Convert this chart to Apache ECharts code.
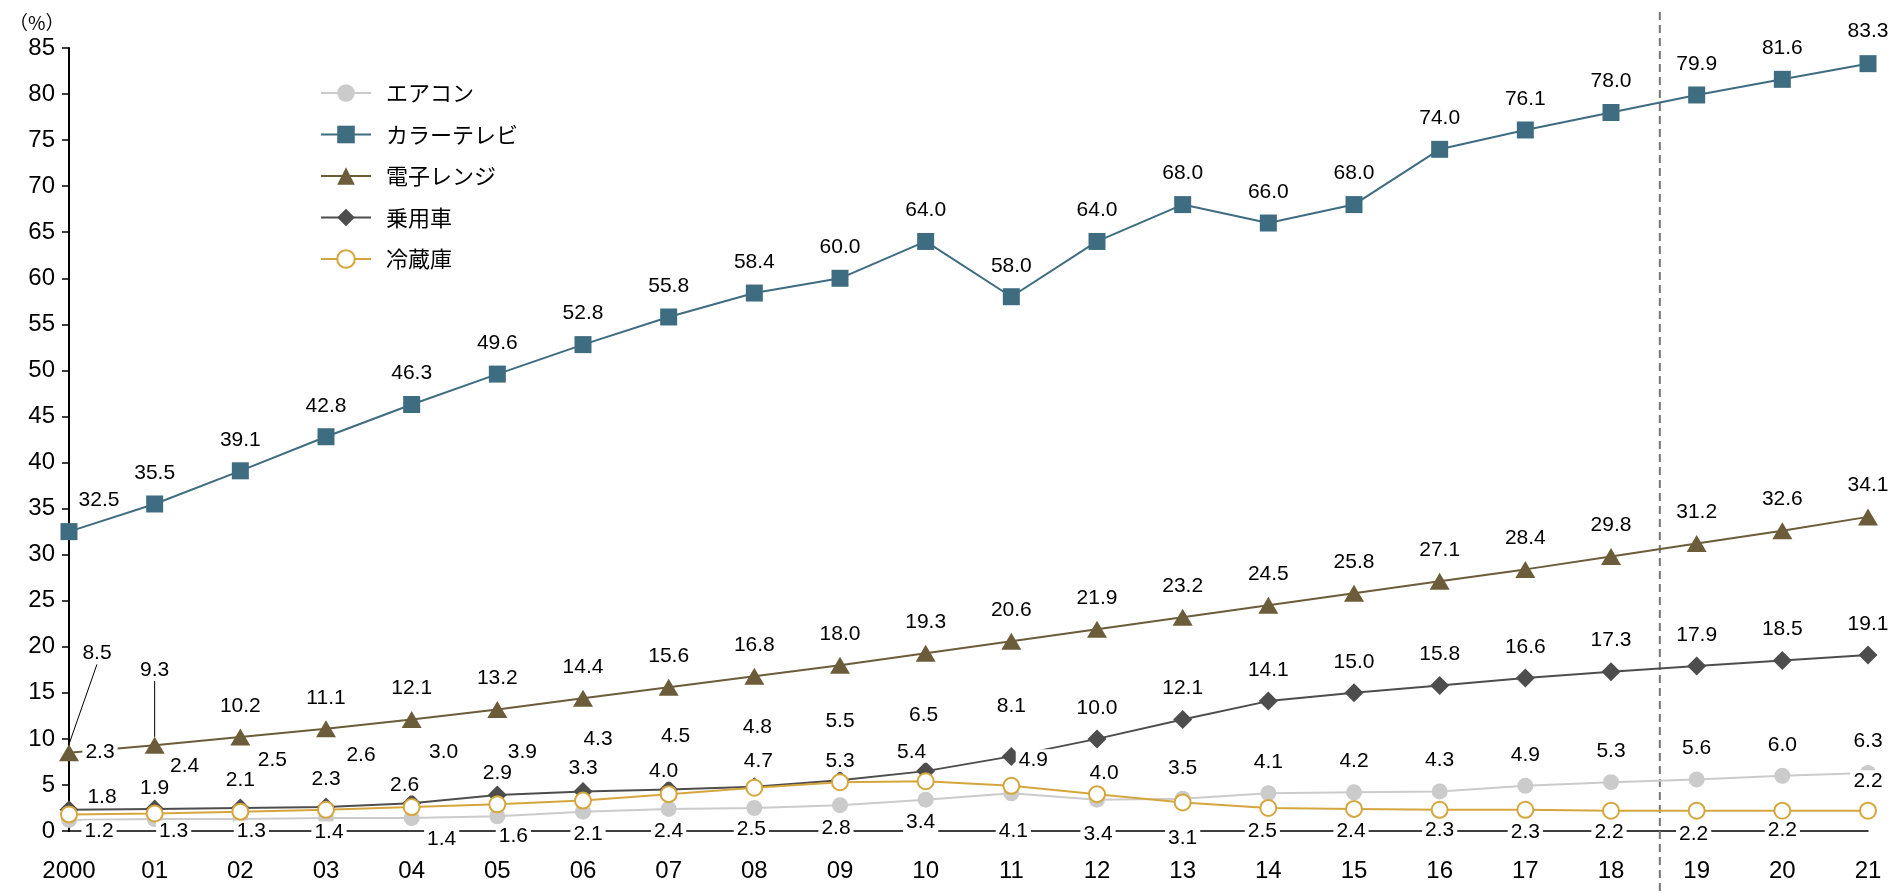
<!DOCTYPE html>
<html>
<head>
<meta charset="utf-8">
<script src="https://cdn.jsdelivr.net/npm/echarts@6/dist/echarts.min.js"></script>
<style>
html,body{margin:0;padding:0;background:#fff;}
#c{width:1892px;height:893px;}
</style>
</head>
<body>
<div id="c"></div>
<script>
// ---------------- data ----------------
const years = ['2000','01','02','03','04','05','06','07','08','09','10','11','12','13','14','15','16','17','18','19','20','21'];
const seriesNames = ['エアコン','カラーテレビ','電子レンジ','乗用車','冷蔵庫'];
const aircon    = [1.2,1.3,1.3,1.4,1.4,1.6,2.1,2.4,2.5,2.8,3.4,4.1,3.4,3.5,4.1,4.2,4.3,4.9,5.3,5.6,6.0,6.3];
const colorTv   = [32.5,35.5,39.1,42.8,46.3,49.6,52.8,55.8,58.4,60.0,64.0,58.0,64.0,68.0,66.0,68.0,74.0,76.1,78.0,79.9,81.6,83.3];
const microwave = [8.5,9.3,10.2,11.1,12.1,13.2,14.4,15.6,16.8,18.0,19.3,20.6,21.9,23.2,24.5,25.8,27.1,28.4,29.8,31.2,32.6,34.1];
const car       = [2.3,2.4,2.5,2.6,3.0,3.9,4.3,4.5,4.8,5.5,6.5,8.1,10.0,12.1,14.1,15.0,15.8,16.6,17.3,17.9,18.5,19.1];
const fridge    = [1.8,1.9,2.1,2.3,2.6,2.9,3.3,4.0,4.7,5.3,5.4,4.9,4.0,3.1,2.5,2.4,2.3,2.3,2.2,2.2,2.2,2.2];
const yMin = 0, yMax = 85, yStep = 5;
const unitLabel = '（%）';

// ---------------- styling ----------------
const FONT = '"Liberation Sans", Arial, "Noto Sans CJK JP", sans-serif';
const JPFONT = '"Noto Sans CJK JP", "Liberation Sans", sans-serif';
const styles = [
  {symbol:'circle',      size:16,      color:'#CBCBCB'},
  {symbol:'rect',        size:17,      color:'#3E6C80'},
  {symbol:'triangle',    size:[20,17], color:'#6B5C3A'},
  {symbol:'diamond',     size:19,      color:'#4D4D4D'},
  {symbol:'emptyCircle', size:16,      color:'#D6A63E'}
];
// label placement: [dx, dy] from the point; 'A' = sits on the x axis line (dy = extra shift)
const A = 'A';
const T = [0,-31];
const labelPlace = [
  [[30,0,A],[19,0,A],[11,0,A],[3,1,A],[30,8,A],[16,5,A],[5,3,A],[0,0,A],[-3,-2,A],[-4,-3,A],[-5,-9,A],[2,0,A],[1,3,A],
   T,T,T,T,T,T,T,T,[0,-32]],
  [[30,-31],T,T,T,T,T,T,T,T,T,T,T,T,T,T,T,T,T,T,T,T,[0,-32]],
  [[28,-99],[0,-75],T,T,T,T,T,T,T,T,T,T,T,T,T,T,T,T,T,T,T,[0,-32]],
  [[31,-58],[30,-43],[32,-48],[35,-52],[32,-51],[25,-43],[15,-52],[7,-53],[3,-60],[0,-59],[-2,-56],[0,-50],
   T,T,T,T,T,T,T,T,T,T],
  [[33,-17],[0,-25],[0,-31],[0,-31],[-7,-22],[0,-31],[0,-32],[-5,-23],[4,-27],[0,-21],[-14,-29],[22,-26],[7,-21],
   [0,7,A],[-6,0,A],[-3,0,A],[0,-1,A],[0,1,A],[-2,1,A],[-3,3,A],[0,-1,A],[0,-30]]
];
const leaderLines = {2:[0,1]};

const chart = echarts.init(document.getElementById('c'));
const allValues = [aircon, colorTv, microwave, car, fridge];

function yPix(v){ return chart.convertToPixel({yAxisIndex:0}, v); }

function buildSeries(k){
  const vals = allValues[k];
  const st = styles[k];
  const leaders = leaderLines[k] || [];
  const empty = st.symbol === 'emptyCircle';
  return {
    name: seriesNames[k],
    type: 'line',
    data: vals.map((v,i) => leaders.indexOf(i) >= 0
      ? {value:v, labelLine:{show:true, lineStyle:{color:'#000', width:1}}}
      : v),
    symbol: st.symbol,
    symbolSize: st.size,
    showAllSymbol: true,
    color: st.color,
    lineStyle: {color: st.color, width: 2, type: 'solid'},
    itemStyle: empty
      ? {color: st.color, borderColor: st.color, borderWidth: 2}
      : {color: st.color, borderWidth: 0},
    emphasis: {disabled: true},
    label: {
      show: true,
      position: 'inside',
      align: 'center',
      verticalAlign: 'middle',
      fontFamily: FONT,
      fontSize: 21,
      color: '#000',
      backgroundColor: '#fff',
      padding: [0, 3],
      formatter: p => Number(p.value).toFixed(1)
    },
    labelLine: {show: false},
    labelLayout: function(p){
      const s = labelPlace[k][p.dataIndex];
      if (!s) return {};
      let dy = s[1];
      if (s[2] === A) {
        try { dy = yPix(0) - yPix(vals[p.dataIndex]) + s[1]; } catch(e) {}
      }
      return {dx: s[0], dy: dy};
    },
    z: 2 + k * 0.01
  };
}

const option = {
  animation: false,
  backgroundColor: '#fff',
  textStyle: {fontFamily: FONT},
  title: {
    text: unitLabel, left: 4, top: 8,
    textStyle: {fontFamily: JPFONT, fontSize: 19, fontWeight: 'normal', color: '#000'}
  },
  legend: {
    orient: 'vertical',
    left: 315, top: 77,
    itemWidth: 50, itemHeight: 22, itemGap: 19.5,
    data: seriesNames,
    selectedMode: false,
    textStyle: {fontFamily: JPFONT, fontSize: 22, color: '#000', lineHeight: 22, padding: [0,0,0,10]}
  },
  grid: {left: 69, right: 24, top: 48, bottom: 62, containLabel: false, outerBoundsMode: 'none'},
  xAxis: {
    type: 'category',
    data: years,
    boundaryGap: false,
    axisLine: {lineStyle: {color: '#000', width: 1.5}},
    axisTick: {show: false},
    axisLabel: {fontFamily: FONT, fontSize: 24, color: '#000', margin: 28, interval: 0},
    splitLine: {show: false}
  },
  yAxis: {
    type: 'value',
    min: yMin, max: yMax, interval: yStep,
    axisLine: {show: true, lineStyle: {color: '#000', width: 2}},
    axisTick: {show: true, length: 7, lineStyle: {color: '#000', width: 1.5}},
    axisLabel: {fontFamily: FONT, fontSize: 24, color: '#000', margin: 14},
    splitLine: {show: false}
  },
  series: [0,1,2,3,4].map(buildSeries)
};

chart.setOption(option);
chart.setOption(option, true);

// dashed divider between 18 and 19
const x18 = chart.convertToPixel({xAxisIndex:0}, 18);
const x19 = chart.convertToPixel({xAxisIndex:0}, 19);
const xd = x18 + 0.57 * (x19 - x18);
chart.setOption({
  graphic: [{
    type: 'line',
    shape: {x1: xd, y1: 12, x2: xd, y2: 893},
    style: {stroke: '#767676', lineWidth: 2, lineDash: [8, 5]},
    z: 1
  }]
});
</script>
</body>
</html>
